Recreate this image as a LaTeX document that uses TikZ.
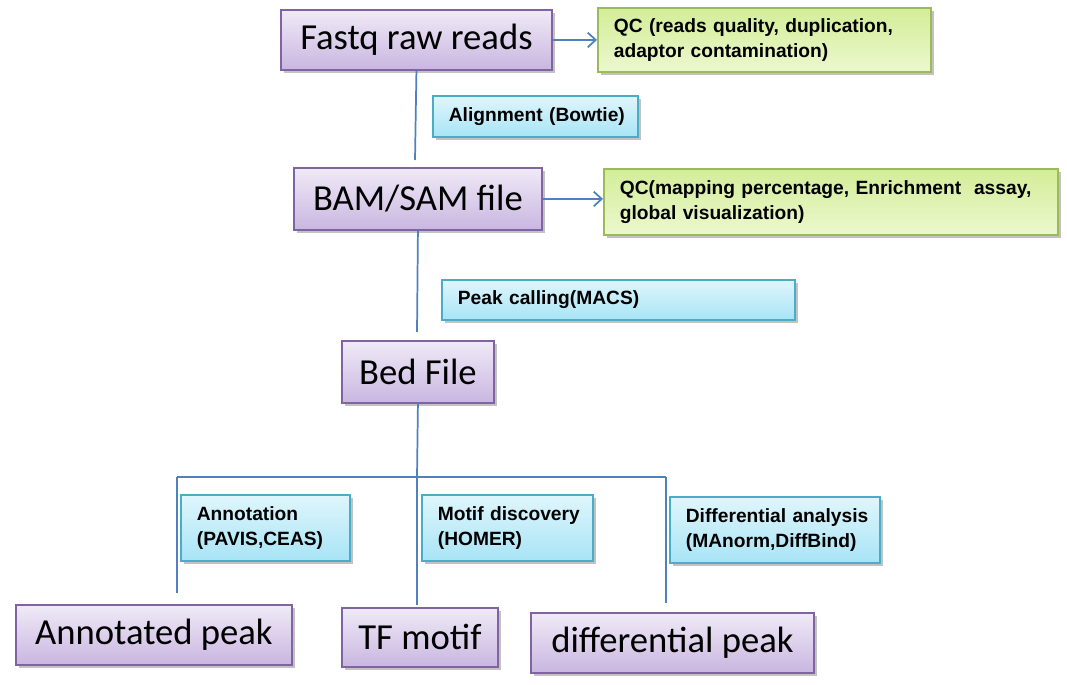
\documentclass[tikz,border=0pt]{standalone}
\usepackage{fontspec}
\setmainfont{Liberation Sans}
\newfontfamily\calibri{Carlito}
\usetikzlibrary{shadows,arrows.meta}
\DeclareRobustCommand\labfont{\bfseries\fontsize{14.4}{18.75}\selectfont\spaceskip=0.2em plus 0.1em\relax}
\definecolor{pborder}{HTML}{8064A2}
\definecolor{ptop}{HTML}{F0EAF7}
\definecolor{pbot}{HTML}{C9B6E0}
\definecolor{gborder}{HTML}{9BBB59}
\definecolor{gtop}{HTML}{D3ED98}
\definecolor{gbot}{HTML}{ECF8CE}
\definecolor{cborder}{HTML}{4BACC6}
\definecolor{ctop}{HTML}{DFF6FC}
\definecolor{cbot}{HTML}{A8E4F6}
\definecolor{lineblue}{HTML}{4F81BD}
\begin{document}
\begin{tikzpicture}[x=0.75pt,y=-0.75pt,
  sz/.style 2 args={minimum width=#1*0.75pt, minimum height=#2*0.75pt},
  shadowed/.style={drop shadow={shadow xshift=2pt,shadow yshift=-2.5pt,opacity=0.4,fill=black!60}},
  purplebox/.style={draw=pborder, line width=1.4pt, top color=ptop, bottom color=pbot, shadowed,
    font=\calibri\fontsize{27.5}{30}\selectfont, inner sep=0pt, anchor=north west},
  labelbase/.style={line width=1.3pt, shadowed, anchor=north west, inner xsep=12pt, inner ysep=0pt,
    align=left, font=\labfont},
  greenbox/.style={labelbase, draw=gborder, top color=gtop, bottom color=gbot},
  cyanbox/.style={labelbase, draw=cborder, top color=ctop, bottom color=cbot},
  tw/.style={text width=#1*0.75pt-24pt},
  conn/.style={draw=lineblue, line width=1.3pt},
  arr/.style={conn, -{Straight Barb[length=6pt,width=11pt,line width=1.3pt]}}
]
\useasboundingbox (0,0) rectangle (1067,685);

% main purple boxes
\node[purplebox, sz={271}{60}] (fastq) at (280,9) {Fastq raw reads};
\node[purplebox, sz={248}{62}] (bam) at (293,167) {BAM/SAM file};
\node[purplebox, sz={152}{62}] (bed) at (341,340) {Bed File};
\node[purplebox, sz={276}{60}] (annot) at (15,604) {Annotated peak};
\node[purplebox, sz={156}{59}] (tfm) at (341,607) {TF motif};
\node[purplebox, sz={283}{60}] (diffp) at (530,612) {differential peak};

% QC boxes
\node[greenbox, sz={333}{64}, tw=333] (qc1) at (597,7)
  {\mbox{QC (reads quality, duplication,}\\\mbox{adaptor contamination)}};
\node[greenbox, sz={454}{66}, tw=454] (qc2) at (603,168)
  {\mbox{QC(mapping percentage, Enrichment\ \ assay,}\\\mbox{global visualization)}};

% process labels
\node[cyanbox, sz={205}{41}, tw=205] (align) at (432,95) {\mbox{Alignment (Bowtie)}};
\node[cyanbox, sz={353}{40}, tw=353] (peakc) at (441,279) {\mbox{Peak calling(MACS)}};
\node[cyanbox, sz={169}{66}, tw=169] (annotl) at (180,494) {\mbox{Annotation}\\\mbox{(PAVIS,CEAS)}};
\node[cyanbox, sz={171}{66}, tw=171] (motifl) at (421,494) {\mbox{Motif discovery}\\\mbox{(HOMER)}};
\node[cyanbox, sz={210}{66}, tw=210] (diffl) at (669,496) {\mbox{Differential analysis}\\\mbox{(MAnorm,DiffBind)}};

% connector end points
\coordinate (e1) at (415,160);
\coordinate (e2) at (417,332);
\coordinate (j) at (417,477);
\coordinate (jl) at (177,477);
\coordinate (jr) at (666,477);
\coordinate (el) at (177,593);
\coordinate (em) at (417,605);
\coordinate (er) at (666,603);

% connectors
\draw[arr] (fastq.east) -- (fastq.east -| qc1.west);
\draw[arr] (bam.east) -- (bam.east -| qc2.west);
\draw[conn] (fastq.south) -- (e1);
\draw[conn] (bam.south) -- (e2);
\draw[conn] (bed.south) -- (j);
\draw[conn] (jl) -- (jr);
\draw[conn] (jl) -- (el);
\draw[conn] (j) -- (em);
\draw[conn] (jr) -- (er);
\end{tikzpicture}
\end{document}
